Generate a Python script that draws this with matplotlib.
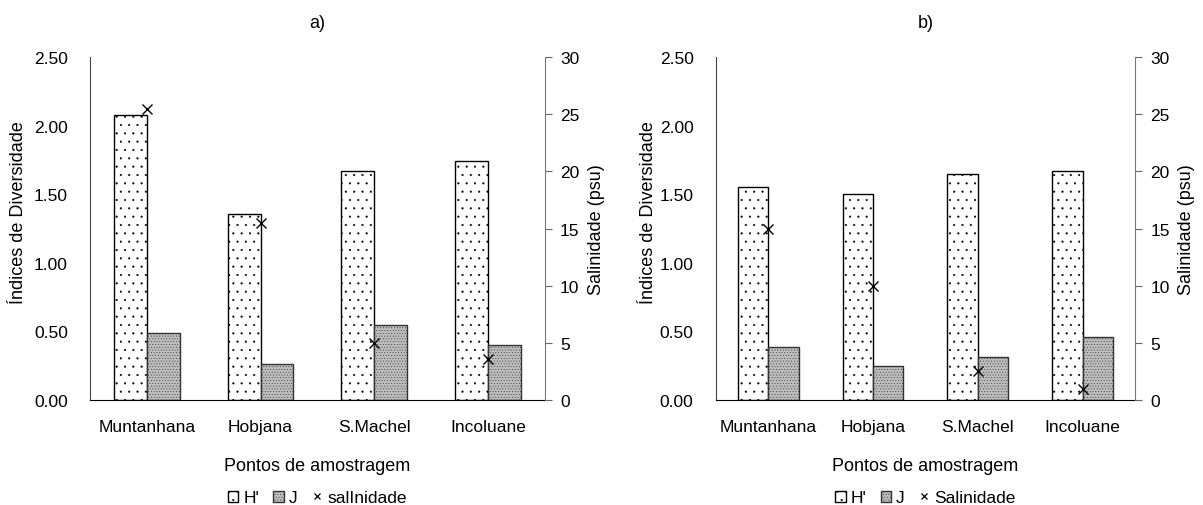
import numpy as np
import matplotlib
matplotlib.use('Agg')
from matplotlib import pyplot as plt
from matplotlib.patches import Patch
from matplotlib.lines import Line2D

plt.rcParams['font.family'] = ['Liberation Sans', 'DejaVu Sans']
plt.rcParams['font.size'] = 12.5
plt.rcParams['hatch.linewidth'] = 0.3

# data
sites = ['Muntanhana', 'Hobjana', 'S.Machel', 'Incoluane']
H_a = [2.08, 1.36, 1.67, 1.74]
J_a = [0.49, 0.26, 0.55, 0.40]
sal_a = [25.5, 15.5, 5.0, 3.6]
H_b = [1.55, 1.50, 1.65, 1.67]
J_b = [0.39, 0.25, 0.31, 0.46]
sal_b = [15.0, 10.0, 2.5, 1.0]
left_ticks = [0.0, 0.5, 1.0, 1.5, 2.0, 2.5]
right_ticks = [0, 5, 10, 15, 20, 25, 30]

fig = plt.figure(figsize=(12.03, 5.06), dpi=100)
w = 0.29

def panel(rect, H, J, sal, title, sal_name, ylab_x):
    ax = fig.add_axes(rect)
    x = np.arange(len(sites))
    ax.bar(x - w/2, H, w, facecolor='white', edgecolor='black', hatch='..', linewidth=1)
    ax.bar(x + w/2, J, w, facecolor='#bdbdbd', edgecolor='#333333', hatch='......', linewidth=1)
    ax.set_xlim(-0.5, 3.5)
    ax.set_ylim(0, 2.5)
    ax.set_yticks(left_ticks)
    ax.set_yticklabels(['%.2f' % v for v in left_ticks])
    ax.set_xticks(x)
    ax.set_xticklabels(sites)
    ax.tick_params(axis='x', length=0, pad=14)
    ax.tick_params(axis='y', length=0, pad=16)
    ax.spines['top'].set_visible(False)
    ax.spines['left'].set_color('#444444')
    ax.spines['right'].set_visible(False)
    ax.set_ylabel('Índices de Diversidade', fontsize=13)
    ax.yaxis.set_label_coords(ylab_x, 0.55)
    ax.set_xlabel('Pontos de amostragem', labelpad=16, fontsize=13)
    ax.set_title(title, pad=22, fontsize=13)

    ax2 = ax.twinx()
    ax2.plot(x, sal, 'x', color='black', markersize=7, mew=1.0, linestyle='none')
    ax2.set_ylim(0, 30)
    ax2.set_yticks(right_ticks)
    ax2.tick_params(axis='y', length=5, color='#666666', pad=6)
    for s in ['top', 'left', 'bottom']:
        ax2.spines[s].set_visible(False)
    ax2.spines['right'].set_color('#777777')
    ax2.set_ylabel('Salinidade (psu)', labelpad=6, fontsize=13)

    handles = [Patch(facecolor='white', edgecolor='black', hatch='..'),
               Patch(facecolor='#bdbdbd', edgecolor='#333333', hatch='......'),
               Line2D([], [], marker='x', color='black', linestyle='none', markersize=5, mew=0.9)]
    ax.legend(handles, ["H'", 'J', sal_name], loc='center', bbox_to_anchor=(0.5, -0.285),
              ncol=3, frameon=False, handlelength=0.6, handleheight=0.6, handletextpad=0.3,
              columnspacing=0.8, borderaxespad=0)
    return ax

panel([0.0748, 0.2075, 0.378, 0.6775], H_a, J_a, sal_a, 'a)', 'salInidade', -0.138)
panel([0.595, 0.2075, 0.3485, 0.6775], H_b, J_b, sal_b, 'b)', 'Salinidade', -0.141)

fig.savefig('out.png', dpi=100)
